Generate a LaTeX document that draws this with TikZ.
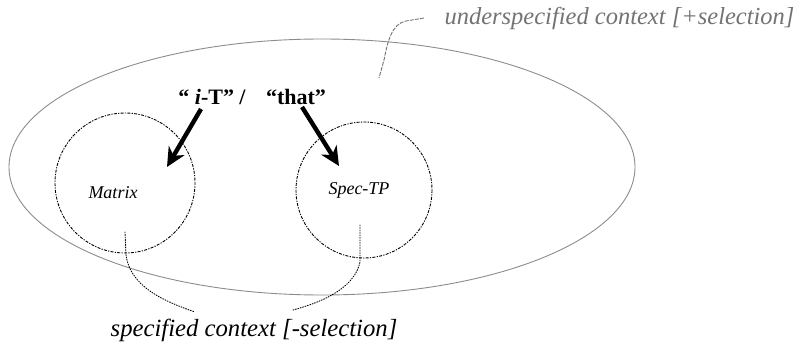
\documentclass[tikz,border=0pt]{standalone}
\usepackage{fontspec}
\setmainfont{Liberation Serif}
\usetikzlibrary{arrows.meta,shapes.geometric}
\definecolor{lightline}{gray}{0.55}
\definecolor{labelgray}{gray}{0.45}
\tikzset{
  ctx/.style={draw=lightline, line width=0.9pt},
  region/.style={circle, draw=black, line width=0.9pt, dash pattern=on 1.2pt off 1.3pt on 3pt off 1.3pt, inner sep=0pt},
  bigarrow/.style={line width=4.4pt, -{Stealth[length=19pt,width=18pt,inset=6pt]}},
  pointer/.style={draw=black, line width=0.9pt, dash pattern=on 1pt off 1.5pt, line cap=round},
  callout/.style={draw=labelgray, line width=0.9pt, dash pattern=on 4pt off 1.2pt},
  innerlabel/.style={font=\fontsize{18}{20}\selectfont\itshape},
  boldlabel/.style={font=\fontsize{22}{24}\selectfont\bfseries, anchor=base},
}
\begin{document}
\begin{tikzpicture}[x=1pt,y=-1pt]
\useasboundingbox (0,0) rectangle (804,345);
% outer ellipse
\node[ctx, ellipse, minimum width=626pt, minimum height=256pt, inner sep=0pt] (under) at (322,167) {};
% inner circles
\node[region, minimum size=140pt] (matrixc) at (125,183) {};
\node[region, minimum size=136pt] (specc) at (364,190) {};
\node[innerlabel] (matrix) at (113,193) {Matrix};
\node[innerlabel] (spec) at (359,190) {Spec-TP};
% labels
\node[boldlabel] (it) at (212,105) {“ \textit{i}-T” /};
\node[boldlabel] (that) at (296,105) {“that”};
\node[font=\fontsize{24.5}{26}\selectfont\itshape, text=labelgray, anchor=base west] (ulabel) at (441,25) {underspecified context [+selection]};
\node[font=\fontsize{24.7}{26}\selectfont\itshape, anchor=base] (slabel) at (254,336) {specified context [-selection]};
% arrows
\coordinate (a1s) at (201,109);
\coordinate (a1e) at (167,167);
\coordinate (a2s) at (302,107);
\coordinate (a2e) at (339,166);
\draw[bigarrow] (a1s) -- (a1e);
\draw[bigarrow] (a2s) -- (a2e);
% pointers
\coordinate (p1s) at (125,232);
\coordinate (p1e) at (195,312);
\coordinate (p2s) at (360,225);
\coordinate (p2e) at (293,310);
\draw[pointer] (p1s) -- (126,255) .. controls (130,285) and (160,300) .. (p1e);
\draw[pointer] (p2s) -- (360,262) .. controls (355,285) and (330,300) .. (p2e);
% callout
\coordinate (cs) at (424,18);
\coordinate (ce) at (379,78);
\draw[callout] (cs) -- (406,21) .. controls (392,24) and (388,40) .. (384,60) -- (ce);
\end{tikzpicture}
\end{document}
